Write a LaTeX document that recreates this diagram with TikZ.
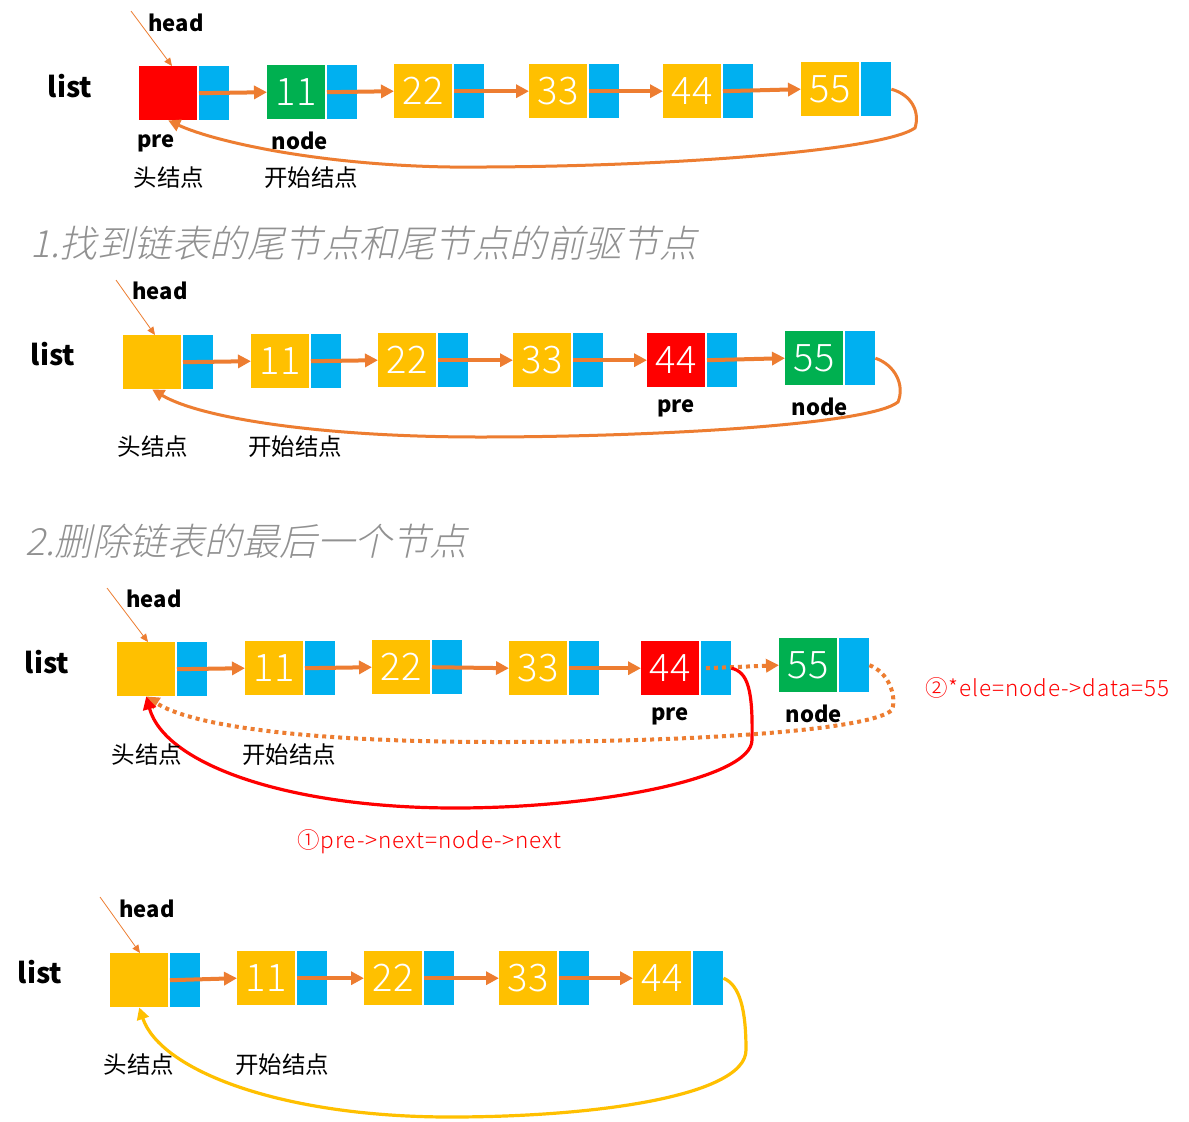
\documentclass[tikz,border=0pt]{standalone}
\usepackage{fontspec}
\setmainfont{Noto Sans CJK SC}
\newfontfamily\numfont{Noto Sans CJK SC Light}
\newfontfamily\redfont{Noto Sans CJK SC Light}[LetterSpace=4]
\newfontfamily\titlefont{Noto Sans CJK SC Light}[FakeSlant=0.22]
\usetikzlibrary{arrows.meta}
\definecolor{cred}{RGB}{255,0,0}
\definecolor{cblue}{RGB}{0,176,240}
\definecolor{cgreen}{RGB}{0,176,80}
\definecolor{cyel}{RGB}{255,192,0}
\definecolor{corg}{RGB}{237,125,49}
\definecolor{cgray}{RGB}{145,145,145}
\newcommand{\mkcell}[5]{%
  \node[databox, fill=#4, anchor=north west] (#1-d) at (#2,#3) {#5};
  \node[ptrbox, anchor=north west] (#1-p) at (#2+60,#3) {};
}
\tikzset{
  databox/.style={minimum width=58pt, minimum height=54pt, inner sep=0pt, text=white, font=\numfont\fontsize{38}{40}\selectfont},
  ptrbox/.style={minimum width=30pt, minimum height=54pt, inner sep=0pt, fill=cblue},
  link/.style={corg, line width=4pt, -{Triangle[length=13pt,width=13pt]}},
  dlink/.style={corg, line width=4pt, dash pattern=on 4pt off 4pt, -{Triangle[length=13pt,width=13pt]}},
  back/.style={corg, line width=3pt, -{Triangle[length=12pt,width=12pt]}},
  dback/.style={corg, line width=4pt, dash pattern=on 4pt off 4pt, -{Triangle[length=13pt,width=13pt]}},
  redback/.style={cred, line width=3.2pt, -{Triangle[length=13pt,width=13pt]}},
  yelback/.style={cyel, line width=3.2pt, -{Triangle[length=12pt,width=12pt]}},
  headarrow/.style={corg, line width=0.8pt, -{Triangle[length=8pt,width=7pt]}},
  lbl/.style={inner sep=0pt, font=\bfseries\fontsize{22}{24}\selectfont},
  listlbl/.style={inner sep=0pt, font=\bfseries\fontsize{28}{30}\selectfont},
  cn/.style={inner sep=0pt, font=\fontsize{23.5}{25}\selectfont},
  title/.style={inner sep=0pt, anchor=west, text=cgray, font=\titlefont\fontsize{37.5}{40}\selectfont},
  redlbl/.style={inner sep=0pt, anchor=west, text=cred, font=\redfont\fontsize{22.5}{25}\selectfont},
}
\begin{document}
\begin{tikzpicture}[x=1pt,y=-1pt]
\useasboundingbox[fill=white] (0,0) rectangle (1189,1122);

% ---------- Row 1 ----------
\mkcell{r1h}{139}{66}{cred}{}
\mkcell{r1a}{267}{65}{cgreen}{11}
\mkcell{r1b}{394}{64}{cyel}{22}
\mkcell{r1c}{529}{64}{cyel}{33}
\mkcell{r1d}{663}{64}{cyel}{44}
\mkcell{r1e}{801}{62}{cyel}{55}
\draw[link] (r1h-p.west) -- (r1a-d.west);
\draw[link] (r1a-p.west) -- (r1b-d.west);
\draw[link] (r1b-p.west) -- (r1c-d.west);
\draw[link] (r1c-p.west) -- (r1d-d.west);
\draw[link] (r1d-p.west) -- (r1e-d.west);
\draw[back] (r1e-p.east) .. controls (912,95) and (920,112) .. (915,128)
  .. controls (880,152) and (650,168) .. (450,167)
  .. controls (320,165) and (215,142) .. (r1h-d.south);
\node[lbl] (r1head) at (176,23) {head};
\coordinate (r1hs) at (131,11);
\draw[headarrow] (r1hs) -- (r1h-d.north -| 172,0);
\node[listlbl] (r1list) at (70,86) {list};
\node[lbl] (r1pre) at (156,143) {pre};
\node[lbl] (r1node) at (300,141) {node};
\node[cn] (r1hn) at (169,178) {头结点};
\node[cn] (r1st) at (311,178) {开始结点};

% ---------- Title 1 ----------
\node[title] (t1) at (30,243) {1.找到链表的尾节点和尾节点的前驱节点};

% ---------- Row 2 ----------
\mkcell{r2h}{123}{335}{cyel}{}
\mkcell{r2a}{251}{334}{cyel}{11}
\mkcell{r2b}{378}{333}{cyel}{22}
\mkcell{r2c}{513}{333}{cyel}{33}
\mkcell{r2d}{647}{333}{cred}{44}
\mkcell{r2e}{785}{331}{cgreen}{55}
\draw[link] (r2h-p.west) -- (r2a-d.west);
\draw[link] (r2a-p.west) -- (r2b-d.west);
\draw[link] (r2b-p.west) -- (r2c-d.west);
\draw[link] (r2c-p.west) -- (r2d-d.west);
\draw[link] (r2d-p.west) -- (r2e-d.west);
\draw[back] (r2e-p.east) .. controls (895,365) and (905,385) .. (898,402)
  .. controls (870,425) and (650,437) .. (480,437)
  .. controls (320,437) and (200,418) .. (r2h-d.south);
\node[lbl] (r2head) at (160,291) {head};
\coordinate (r2hs) at (116,280);
\draw[headarrow] (r2hs) -- (r2h-d.north -| 155,0);
\node[listlbl] (r2list) at (53,354) {list};
\node[lbl] (r2pre) at (676,408) {pre};
\node[lbl] (r2node) at (820,407) {node};
\node[cn] (r2hn) at (153,447) {头结点};
\node[cn] (r2st) at (295,447) {开始结点};

% ---------- Title 2 ----------
\node[title] (t2) at (25,541) {2.删除链表的最后一个节点};

% ---------- Row 3 ----------
\mkcell{r3h}{117}{642}{cyel}{}
\mkcell{r3a}{245}{641}{cyel}{11}
\mkcell{r3b}{372}{640}{cyel}{22}
\mkcell{r3c}{509}{641}{cyel}{33}
\mkcell{r3d}{641}{641}{cred}{44}
\mkcell{r3e}{779}{638}{cgreen}{55}
\draw[link] (r3h-p.west) -- (r3a-d.west);
\draw[link] (r3a-p.west) -- (r3b-d.west);
\draw[link] (r3b-p.west) -- (r3c-d.west);
\draw[link] (r3c-p.west) -- (r3d-d.west);
\draw[dlink] ([xshift=5pt]r3d-p.west) -- (r3e-d.west);
\draw[dback] (r3e-p.east) .. controls (888,672) and (897,695) .. (892,710)
  .. controls (870,730) and (700,742) .. (500,742)
  .. controls (300,742) and (190,725) .. (r3h-d.south);
\draw[redback] (r3d-p.east) .. controls (748,672) and (753,690) .. (752,740)
  .. controls (752,778) and (600,808) .. (455,808)
  .. controls (290,808) and (165,765) .. (r3h-d.south);
\node[lbl] (r3head) at (154,599) {head};
\coordinate (r3hs) at (107,588);
\draw[headarrow] (r3hs) -- (r3h-d.north -| 148,0);
\node[listlbl] (r3list) at (47,662) {list};
\node[lbl] (r3pre) at (670,716) {pre};
\node[lbl] (r3node) at (814,714) {node};
\node[cn] (r3hn) at (147,755) {头结点};
\node[cn] (r3st) at (289,755) {开始结点};
\node[redlbl] (r3l1) at (297,842) {①pre->next=node->next};
\node[redlbl] (r3l2) at (925,688) {②*ele=node->data=55};

% ---------- Row 4 ----------
\mkcell{r4h}{110}{953}{cyel}{}
\mkcell{r4a}{237}{951}{cyel}{11}
\mkcell{r4b}{364}{951}{cyel}{22}
\mkcell{r4c}{499}{951}{cyel}{33}
\mkcell{r4d}{633}{951}{cyel}{44}
\draw[link] (r4h-p.west) -- (r4a-d.west);
\draw[link] (r4a-p.west) -- (r4b-d.west);
\draw[link] (r4b-p.west) -- (r4c-d.west);
\draw[link] (r4c-p.west) -- (r4d-d.west);
\draw[yelback] (r4d-p.east) .. controls (740,985) and (746,1010) .. (746,1050)
  .. controls (746,1095) and (600,1117) .. (450,1117)
  .. controls (280,1117) and (160,1070) .. (r4h-d.south);
\node[lbl] (r4head) at (147,909) {head};
\coordinate (r4hs) at (100,897);
\draw[headarrow] (r4hs) -- (r4h-d.north -| 140,0);
\node[listlbl] (r4list) at (40,972) {list};
\node[cn] (r4hn) at (139,1065) {头结点};
\node[cn] (r4st) at (282,1065) {开始结点};
\end{tikzpicture}
\end{document}
